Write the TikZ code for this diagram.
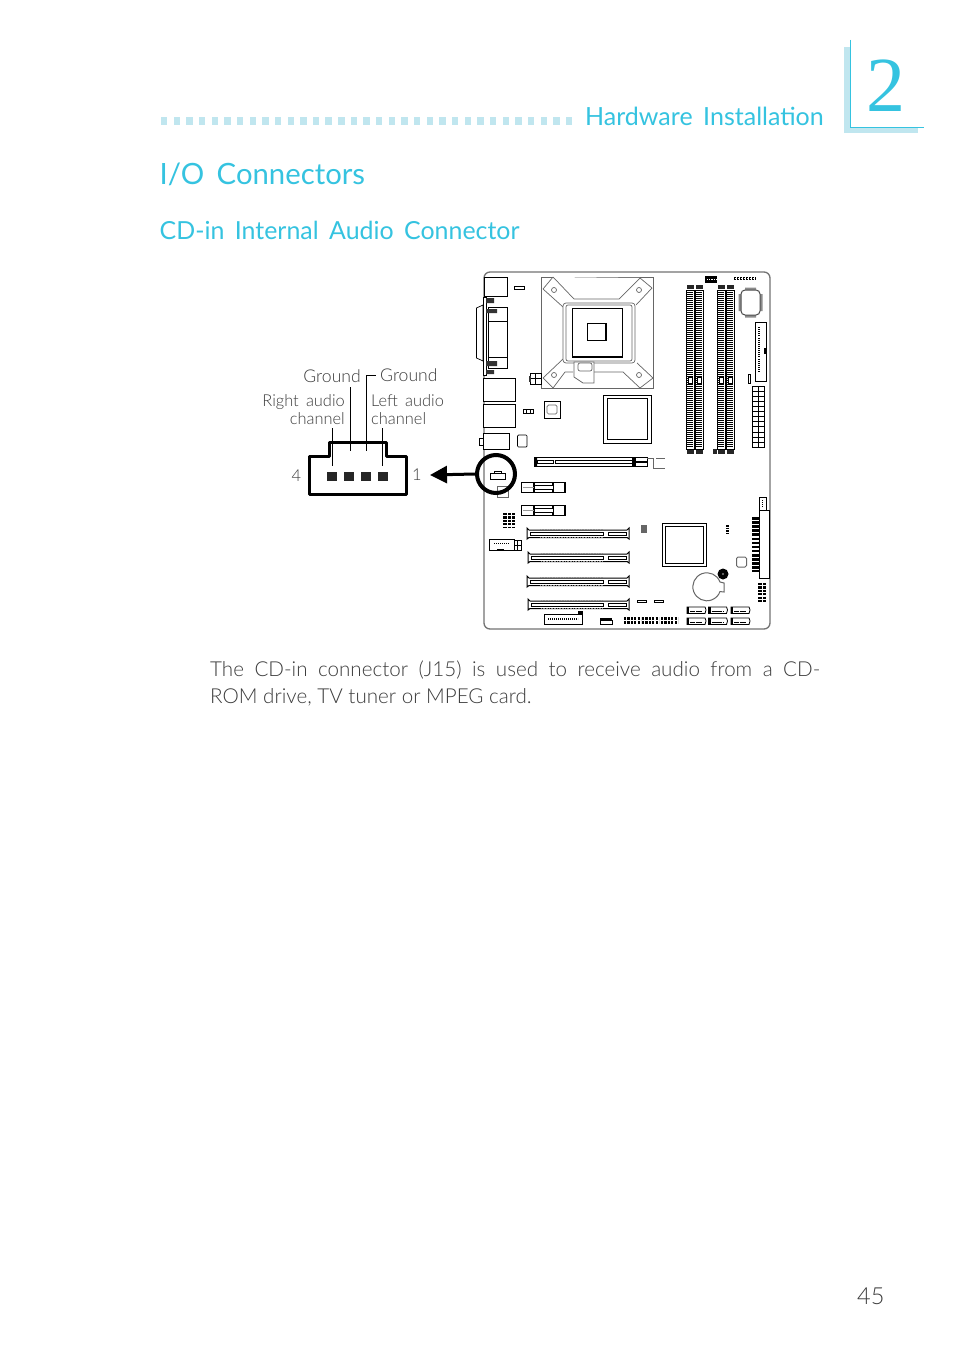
\documentclass[tikz,border=0pt]{standalone}
\usepackage{fontspec}
\setmainfont{Lato}[UprightFont=* Light]
\newfontfamily\headfont{Lato}
\newfontfamily\twofont{Liberation Serif}
\usepackage{xcolor}
\usetikzlibrary{arrows.meta}
\definecolor{headcyan}{HTML}{35C3E0}
\definecolor{palecyan}{HTML}{C0E6EF}
\definecolor{inkgrey}{HTML}{3C3C3C}
\tikzset{
    part/.style={draw=black,line width=0.7pt,fill=white},
    softpart/.style={draw=black!60,line width=0.7pt,fill=white},
    dark/.style={fill=black!85,draw=none},
    headtext/.style={inner sep=0pt,anchor=base west,text=headcyan},
    labeltext/.style={inner sep=0pt,text=inkgrey,font=\fontsize{16.4}{18}\selectfont},
    leader/.style={draw=black,line width=0.9pt},
    grid/.style={draw=black,line width=3pt,dash pattern=on 2.2pt off 1.2pt}
}
\begin{document}
\begin{tikzpicture}[x=1pt,y=-1pt]
    \useasboundingbox[fill=white] (0,0) rectangle (954,1351);

    % page head
    \foreach \x in {0,...,32}
        \fill[palecyan] (161+\x*12.65,117) rectangle ++(6.4,8);
    \fill[palecyan] (844,47) rectangle (850,133);
    \fill[palecyan] (844,127) rectangle (918,133);
    \draw[headcyan,line width=0.9pt] (850.5,40) -- (850.5,127.5) -- (924,127.5);
    \node[headtext] (chapter) at (866,112) {\twofont\fontsize{78}{78}\selectfont 2};
    \node[headtext] (runhead) at (585,126) {\headfont\fontsize{25}{26}\selectfont Hardware\, Installation};
    \node[headtext] (section) at (159.5,185) {\headfont\fontsize{29.3}{31}\selectfont I/O\, Connectors};
    \node[headtext] (subsection) at (159.5,239) {\headfont\fontsize{24.9}{26}\selectfont CD-in\, Internal\, Audio\, Connector};

    % connector drawing
    \draw[line width=3pt,line join=round] (309.5,456) -- (329.5,456) -- (329.5,442) -- (386.5,442)
        -- (386.5,456) -- (406,456) -- (406,494) -- (309.5,494) -- cycle;
    \foreach \n/\x in {four/327,three/344,two/361,one/378}
        \node[dark,minimum width=9.5pt,minimum height=9pt,inner sep=0pt,anchor=north west] (pin\n) at (\x,472) {};
    \coordinate (rightfoot) at (332,466);
    \coordinate (righthead) at (332,428);
    \coordinate (leftfoot) at (382.5,466);
    \coordinate (lefthead) at (382.5,428);
    \coordinate (gndafoot) at (350.5,451);
    \coordinate (gndahead) at (350.5,387);
    \coordinate (gndbfoot) at (366.5,451);
    \coordinate (gndbhead) at (375.5,375.5);
    \draw[leader] (righthead) -- (rightfoot);
    \draw[leader] (lefthead) -- (leftfoot);
    \draw[leader] (gndahead) -- (gndafoot);
    \draw[leader] (gndbhead) -- (gndbfoot |- gndbhead) -- (gndbfoot);

    \node[labeltext,anchor=base east,font=\fontsize{17.6}{18}\selectfont] (gnda) at (361,382) {Ground};
    \node[labeltext,anchor=base west,font=\fontsize{17.6}{18}\selectfont] (gndb) at (380,381) {Ground};
    \node[labeltext,anchor=base east] (ra) at (345,406) {Right\, audio};
    \node[labeltext,anchor=base east] (rb) at (345,424) {channel};
    \node[labeltext,anchor=base west] (la) at (371,406) {Left\, audio};
    \node[labeltext,anchor=base west] (lb) at (371,424) {channel};
    \node[labeltext,anchor=center] (pfour) at (296.5,476) {4};
    \node[labeltext,anchor=center] (pone) at (417,475) {1};

    % board outline
    \draw[black!55,line width=1.3pt,rounded corners=6pt] (484,272) rectangle (770,629);

    % back panel
    \draw[part] (484,277) rectangle (507,296);
    \draw[part] (476.5,308) -- (483,305) -- (483,361) -- (476.5,358) -- cycle;
    \draw[part,line width=1pt] (483,297) rectangle (486,375);
    \draw[part] (488,307) rectangle (507,368);
    \draw[part] (488,321) -- (507,321) (488,357) -- (507,357);
    \fill[black!80] (486,298) rectangle (494,303) (486,309) rectangle (497,313)
        (486,361) rectangle (497,366) (486,370) rectangle (494,374);
    \draw[part] (483,378) rectangle (515,401);
    \draw[part] (483,404) rectangle (515,427);
    \draw[part] (483,433) rectangle (509,449);
    \draw[part] (479,438) rectangle (483,445);

    % cpu socket
    \draw[softpart] (541,277) rectangle (653,388);
    \draw[softpart] (553,277) -- (574,299) -- (619,299) -- (640,278) (652,288) -- (636,305)
        (543,289) -- (563,307) (563,359) -- (543,378) -- (553,388) -- (565,372) -- (573,372)
        (594,372) -- (623,372) -- (640,388) -- (653,378) -- (637,363);
    \draw[softpart] (543,289) -- (553,277) (640,278) -- (652,288);
    \foreach \x/\y in {554/290,639/290,554/375,639/375}
        \draw[softpart] (\x,\y) circle (2.5pt);
    \draw[softpart,rounded corners=3pt] (563,303) rectangle (635,363);
    \draw[softpart,rounded corners=2pt] (566,305) rectangle (632,361);
    \draw[part,line width=1pt] (572,308.5) rectangle (622,357);
    \draw[black,line width=1.4pt] (572,357) -- (622,357);
    \draw[part,line width=1.2pt] (587.5,323.5) rectangle (606,340.5);
    \draw[softpart] (574,362) -- (594,362) -- (594,383) -- (583,383) -- (574,377) -- cycle;
    \draw[softpart,rounded corners=2pt] (578,363) rectangle (592,371);
    \draw[part] (530,373) rectangle (541,384);
    \draw[part] (535.5,373) -- (535.5,384) (530,378.5) -- (541,378.5);
    \fill[black!80] (529,376) rectangle (530.5,382);

    % memory slots
    \foreach \x in {686,695,717,726} {
        \draw[part] (\x,290) rectangle ++(8.5,159);
        \draw[black,line width=6.5pt,dash pattern=on 1pt off 1pt] (\x+4.2,292) -- ++(0,155);
        \fill[black!85] (\x+1,285) rectangle ++(6.5,4);
        \fill[black!85] (\x+1,450) rectangle ++(6.5,4);
        \draw[part,line width=1pt] (\x+2,377) rectangle ++(4.5,6);
    }
    \fill[black!85] (713,449) rectangle (717,454);

    % top right corner parts
    \fill[black] (705,276) rectangle (717,283);
    \draw[white,line width=1pt,dash pattern=on 1.2pt off 1pt] (707,279.5) -- (716,279.5);
    \draw[black,line width=2.6pt,dash pattern=on 2.2pt off 0.8pt] (734,278.5) -- (756,278.5);
    \draw[white,line width=0.8pt,dash pattern=on 1.2pt off 1.8pt] (735,278.5) -- (755,278.5);
    \fill[black!45] (745,287.5) rectangle (756,290) (745,315) rectangle (756,317.5)
        (738.5,294) rectangle (741,311) (760,294) rectangle (762.5,311);
    \draw[black!70,line width=1pt,fill=white,rounded corners=4pt] (741,290) rectangle (760,315);
    \draw[part,line width=1pt] (755,322) rectangle (766,381);
    \draw[black,line width=2pt,dash pattern=on 0.9pt off 1.2pt] (759,327) -- (759,372);
    \draw[black,line width=1.4pt] (765,348) -- (765,354);
    \draw[part] (748,374) rectangle (750.5,383);
    \draw[part] (752,386) rectangle (764,447);
    \foreach \y in {0,...,12}
        \draw[black,line width=0.4pt] (752,386+\y*5.08) -- (764,386+\y*5.08);
    \draw[black,line width=0.6pt] (758,386) -- (758,447);
    \draw[black,line width=1pt] (764,401) -- (764,430);

    % chips on the left
    \draw[part] (514,286) rectangle (524,289);
    \draw[part] (523,409) rectangle (533,413);
    \draw[part] (526.5,409) -- (526.5,413) (530,409) -- (530,413);
    \draw[part,rounded corners=1pt] (517.5,435) rectangle (527,447);
    \draw[part] (544,401) rectangle (560,418);
    \draw[softpart,rounded corners=1.5pt] (547,405) rectangle (557,414);
    \draw[part] (603.5,395) rectangle (651,443);
    \draw[part] (607,398.5) rectangle (647,439);

    % graphics slot
    \draw[part,line width=1pt] (534,457.5) rectangle (635,466.5);
    \fill[black] (534,457.5) rectangle (537,466.5) (632,457.5) rectangle (635,466.5);
    \draw[part] (537,460) rectangle (553,463.5) (555,460) rectangle (632,463.5);
    \draw[part,line width=1pt] (635,457.5) rectangle (647,466.5);
    \draw[black,line width=1.4pt] (635,462) -- (647,462);
    \draw[softpart] (647,458) -- (653,458) -- (653,468.5) -- (665,468.5) (656,458) -- (665,458);

    % circled header with arrow
    \draw[part,line width=1pt] (490.5,479) rectangle (505,473.5) -- (501,473.5) -- (501,471) -- (494,471) -- (494,473.5);
    \draw[softpart,line width=1pt] (497,486) rectangle (508,497);
    \node[circle,draw=black,line width=4pt,minimum size=38pt,inner sep=0pt] (jcircle) at (496,474) {};
    \coordinate (arrowend) at (430,475);
    \draw[line width=3pt,-{Triangle[length=17pt,width=17pt]}] (jcircle.west) -- (arrowend);

    % short slots
    \foreach \y in {482,505} {
        \draw[part,line width=1pt] (521,\y) rectangle (565,\y+10);
        \draw[black,line width=1.2pt] (534,\y) -- (534,\y+10) (553,\y) -- (553,\y+10) (565,\y) -- (565,\y+10);
        \draw[part] (534,\y+3) rectangle (553,\y+7);
        \draw[black!40] (523,\y+5) -- (534,\y+5);
    }
    \draw[grid,line width=8pt] (507,513) -- (507,528);
    \draw[white,line width=0.7pt] (507,513) -- (507,528);
    \draw[grid] (513.5,513) -- (513.5,528);

    % long slots
    \foreach \x/\y in {527/528,528/552,527/576,528/599} {
        \draw[part,line width=1pt] (\x,\y) -- (\x+2,\y+2) -- (627,\y+2) -- (629,\y) -- (629,\y+11)
            -- (627,\y+9.5) -- (\x+2,\y+9.5) -- (\x,\y+11) -- cycle;
        \draw[part] (\x+3,\y+4) rectangle (603,\y+7.5);
        \draw[part] (608,\y+4) rectangle (626,\y+7.5);
        \draw[black!45,line width=0.6pt,dash pattern=on 1pt off 0.6pt] (\x+13,\y+1) -- (603,\y+1) (\x+13,\y+9) -- (603,\y+9);
    }

    % box with pin block
    \draw[part,line width=1pt] (489,539) rectangle (514,550);
    \draw[black,line width=1pt,dash pattern=on 1pt off 1pt] (494,543) -- (509,543);
    \draw[black,line width=1.2pt] (497,549.5) -- (504,549.5);
    \draw[part,line width=1pt] (514,540) rectangle (521,550);
    \draw[black,line width=0.7pt] (517.5,540) -- (517.5,550) (514,545) -- (521,545);

    % south side
    \fill[black!60] (641,525) rectangle (647,533);
    \draw[part] (662.5,523.5) rectangle (706.5,566.5);
    \draw[part] (665.5,526.5) rectangle (703.5,563.5);
    \draw[black,line width=2.6pt,dash pattern=on 1.6pt off 1pt] (727.5,525) -- (727.5,534);
    \draw[part,line width=1pt] (759,497) rectangle (766,510);
    \draw[black,line width=1pt,dash pattern=on 1pt off 1pt] (762,500) -- (762,508);
    \draw[black,line width=7pt,dash pattern=on 2.6pt off 1.5pt] (755.5,517) -- (755.5,572);
    \draw[part,line width=1pt] (759,510) rectangle (769,578);
    \draw[softpart,rounded corners=1.5pt,line width=1pt] (736.5,557) rectangle (746.5,567);
    \draw[softpart,line width=1pt] (720,582) arc[start angle=20,end angle=340,radius=14pt]
        -- (724,592) -- (724,583) -- cycle;
    \fill[black] (723,574) circle (5.5pt);
    \fill[black!50] (723,574) circle (1.2pt);
    \draw[grid,line width=7.5pt] (762,583) -- (762,602);
    \draw[white,line width=0.7pt] (762,583) -- (762,602);
    \draw[part] (637,600.5) rectangle (646,602.5) (654,600.5) rectangle (663,602.5);

    % bottom row
    \draw[part] (544,614.5) rectangle (582.5,624);
    \fill[black] (578,611) rectangle (582.5,614.5);
    \draw[black,line width=2pt,dash pattern=on 0.8pt off 1.2pt] (548,619) -- (578,619);
    \fill[black] (600,618) rectangle (612,620);
    \draw[part] (600,620) rectangle (612,624.5);
    \foreach \x in {624,642,661} {
        \draw[grid,line width=7pt] (\x,620.5) -- ++(17,0);
        \draw[white,line width=0.7pt] (\x,620.5) -- ++(17,0);
    }
    \foreach \x in {687,708.5,731}
        \foreach \y in {607,618} {
            \draw[part,line width=0.8pt] (\x,\y) -- ++(18,0) -- ++(1,3) -- ++(-1,3.5) -- ++(-18,0) -- cycle;
            \fill[black] (\x,\y) rectangle ++(2,6.5);
            \draw[black,line width=0.8pt,dash pattern=on 0.6pt off 0.5pt] (\x+3,\y+4) -- ++(12,0);
        }

    % body text and folio
    \node[inner sep=0pt,anchor=base west,align=left,text=inkgrey,font=\fontsize{20.6}{27}\selectfont] (bodytext) at (210,703)
        {\makebox[610pt][s]{The CD-in connector (J15) is used to receive audio from a CD-}\\ROM drive, TV tuner or MPEG card.};
    \node[inner sep=0pt,anchor=base west,text=inkgrey,font=\fontsize{23.5}{25}\selectfont] (folio) at (857,1304) {45};
\end{tikzpicture}
\end{document}
